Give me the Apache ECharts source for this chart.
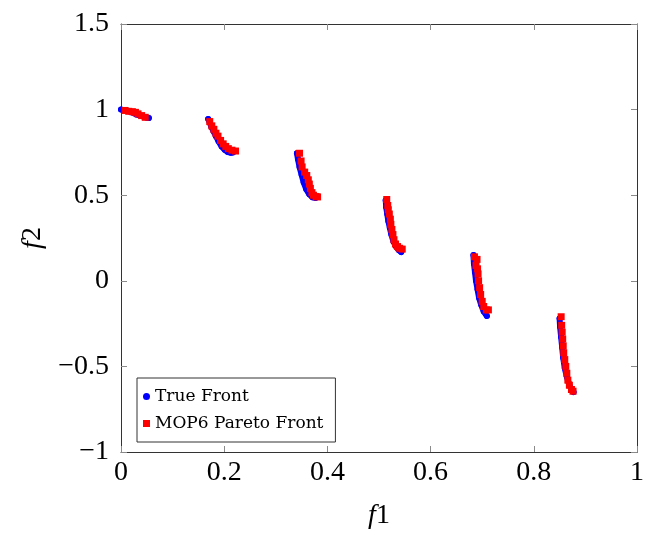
<!DOCTYPE html>
<html><head><meta charset="utf-8">
<script src="https://cdn.jsdelivr.net/npm/echarts@6/dist/echarts.min.js"></script>
<style>html,body{margin:0;padding:0;background:#fff}#c{width:647px;height:535px}</style>
</head><body><div id="c"></div>
<script>
const xTicks=[0,0.2,0.4,0.6,0.8,1];
const yTicks=[-1,-0.5,0,0.5,1,1.5];

const trueSeg1=[[0,1.0],[0.01,0.995],[0.02,0.985],[0.03,0.972],[0.04,0.962],[0.05,0.953],[0.054,0.951]];
const trueSeg2=[[0.169,0.945],[0.172,0.925],[0.175,0.9],[0.179,0.875],[0.184,0.845],[0.189,0.815],[0.195,0.785],[0.201,0.765],[0.207,0.752],[0.213,0.748],[0.217,0.75]];
const trueSeg3=[[0.341,0.745],[0.343,0.71],[0.346,0.665],[0.35,0.62],[0.354,0.575],[0.359,0.535],[0.365,0.505],[0.371,0.488],[0.377,0.484]];
const trueSeg4=[[0.513,0.47],[0.514,0.43],[0.516,0.39],[0.518,0.35],[0.521,0.31],[0.524,0.27],[0.528,0.23],[0.533,0.2],[0.538,0.18],[0.543,0.168]];
const trueSeg5=[[0.683,0.15],[0.684,0.1],[0.686,0.05],[0.688,0.0],[0.691,-0.05],[0.694,-0.1],[0.698,-0.14],[0.703,-0.18],[0.709,-0.205]];
const trueSeg6=[[0.85,-0.22],[0.851,-0.27],[0.853,-0.33],[0.855,-0.39],[0.857,-0.45],[0.86,-0.51],[0.864,-0.56],[0.868,-0.6],[0.872,-0.63],[0.877,-0.65]];

const mopPoints=[
[0.008,0.995],[0.015,0.99],[0.022,0.988],[0.028,0.984],[0.033,0.975],[0.04,0.965],[0.047,0.955],
[0.172,0.93],[0.176,0.905],[0.18,0.885],[0.184,0.862],[0.188,0.845],[0.193,0.82],[0.198,0.8],[0.203,0.785],[0.208,0.772],[0.215,0.763],[0.222,0.758],
[0.346,0.745],[0.349,0.7],[0.351,0.665],[0.356,0.635],[0.36,0.615],[0.363,0.59],[0.365,0.565],[0.367,0.54],[0.37,0.515],[0.373,0.5],[0.378,0.492],[0.381,0.49],
[0.515,0.475],[0.517,0.44],[0.518,0.415],[0.52,0.39],[0.522,0.36],[0.523,0.33],[0.525,0.3],[0.527,0.27],[0.529,0.24],[0.532,0.215],[0.536,0.2],[0.54,0.19],[0.545,0.185],
[0.685,0.14],[0.69,0.125],[0.688,0.09],[0.691,0.07],[0.692,0.04],[0.693,0.0],[0.695,-0.04],[0.697,-0.08],[0.7,-0.12],[0.703,-0.15],[0.708,-0.17],[0.712,-0.17],
[0.853,-0.21],[0.854,-0.26],[0.855,-0.3],[0.856,-0.34],[0.857,-0.38],[0.858,-0.42],[0.86,-0.46],[0.862,-0.5],[0.864,-0.54],[0.866,-0.58],[0.869,-0.61],[0.873,-0.635],[0.876,-0.645]
];

const trueSegs=[trueSeg1,trueSeg2,trueSeg3,trueSeg4,trueSeg5,trueSeg6];
const FONT='"Liberation Serif", serif';
const LFONT='"DejaVu Serif", serif';
const fmt=v=>{const s=String(Math.round(v*10)/10);return s.replace('-','\u2212');};

const chart=echarts.init(document.getElementById('c'),null,{renderer:'canvas'});
const axisCommon={
  axisLine:{show:true,onZero:false,lineStyle:{color:'#333',width:1}},
  axisTick:{show:true,inside:true,length:6,lineStyle:{color:'#8a8a8a',width:1}},
  splitLine:{show:false}
};
const series=trueSegs.map((seg,i)=>({
  name:'True Front',type:'line',data:seg,xAxisIndex:0,yAxisIndex:0,
  symbol:'circle',symbolSize:6,showSymbol:true,
  lineStyle:{color:'#0000ff',width:6,cap:'round',join:'round'},
  itemStyle:{color:'#0000ff',opacity:1},smooth:false,z:2,animation:false
}));
series.push({
  name:'MOP6 Pareto Front',type:'scatter',data:mopPoints,symbol:'rect',symbolSize:7,
  itemStyle:{color:'#ff0000',opacity:1},z:3,animation:false
});
chart.setOption({
  animation:false,
  grid:{left:121,right:8,top:24,bottom:81,containLabel:false},
  xAxis:[
    Object.assign({type:'value',min:0,max:1,interval:0.2,position:'bottom',
      axisLabel:{formatter:fmt,fontFamily:FONT,fontSize:28,color:'#000',margin:7},
      name:'{i|f}1',nameLocation:'middle',nameGap:50,
      nameTextStyle:{fontFamily:FONT,fontSize:28,color:'#000',rich:{i:{fontFamily:FONT,fontStyle:'italic',fontSize:28}}}
    },axisCommon),
    Object.assign({type:'value',min:0,max:1,interval:0.2,position:'top',axisLabel:{show:false}},axisCommon)
  ],
  yAxis:[
    Object.assign({type:'value',min:-1,max:1.5,interval:0.5,position:'left',
      axisLabel:{formatter:fmt,fontFamily:FONT,fontSize:28,color:'#000',margin:12},
      name:'{i|f}2',nameLocation:'middle',nameGap:74,nameRotate:90,
      nameTextStyle:{fontFamily:FONT,fontSize:28,color:'#000',rich:{i:{fontFamily:FONT,fontStyle:'italic',fontSize:28}}}
    },axisCommon),
    Object.assign({type:'value',min:-1,max:1.5,interval:0.5,position:'right',axisLabel:{show:false}},axisCommon)
  ],
  legend:{
    orient:'vertical',left:137,top:378,
    data:[{name:'True Front',icon:'circle'},{name:'MOP6 Pareto Front',icon:'rect'}],
    itemWidth:7,itemHeight:7,itemGap:10,
    padding:[10,12,10,6],
    borderColor:'#333',borderWidth:1,backgroundColor:'#fff',
    textStyle:{fontFamily:LFONT,fontSize:17,color:'#000'},
    selectedMode:false
  },
  series:series
});
</script></body></html>
